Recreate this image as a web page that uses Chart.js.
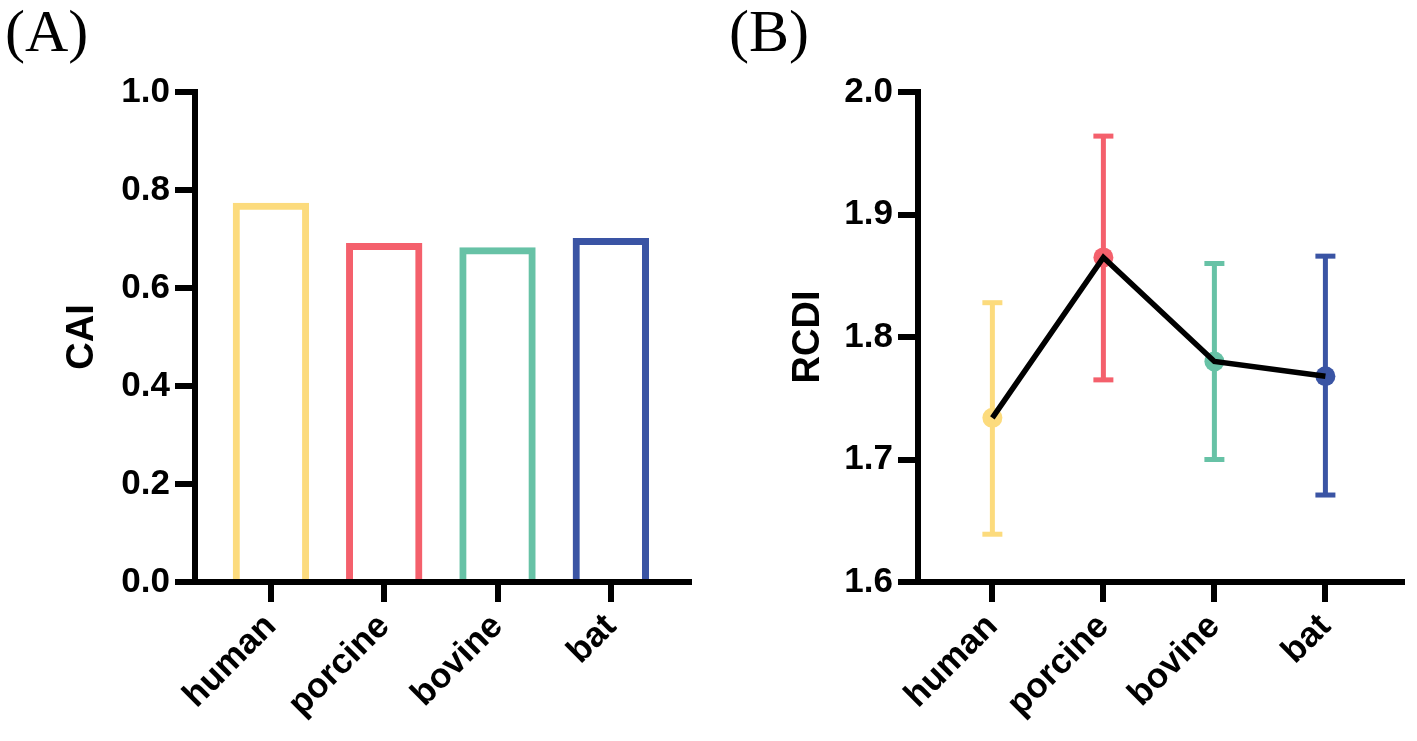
<!DOCTYPE html>
<html>
<head>
<meta charset="utf-8">
<script src="https://cdn.jsdelivr.net/npm/chart.js@4.4.1/dist/chart.umd.min.js"></script>
<style>
body { margin: 0; background: #fff; width: 1417px; height: 741px; overflow: hidden; position: relative; }
canvas { position: absolute; top: 0; }
.tag { position: absolute; top: 1px; font-family: 'Liberation Serif', 'Times New Roman', serif; font-size: 60px; line-height: 60px; color: #000; }
</style>
</head>
<body>
<canvas id="chartA" width="708" height="741" style="left:0"></canvas>
<canvas id="chartB" width="709" height="741" style="left:708px"></canvas>
<div class="tag" style="left:5px">(A)</div>
<div class="tag" style="left:729px">(B)</div>
<script>
// data
var species = ['human', 'porcine', 'bovine', 'bat'];
var speciesColors = ['#fcdb7d', '#f4606c', '#67c2a6', '#3a54a4'];

var cai = [0.774, 0.692, 0.683, 0.702];
var caiTicks = [0, 0.2, 0.4, 0.6, 0.8, 1.0];

var rcdi = [1.734, 1.865, 1.780, 1.768];
var rcdiLow = [1.639, 1.765, 1.700, 1.671];
var rcdiHigh = [1.828, 1.964, 1.860, 1.866];
var rcdiTicks = [1.6, 1.7, 1.8, 1.9, 2.0];

Chart.defaults.font.family = "'Liberation Sans', Arial, sans-serif";
Chart.defaults.font.weight = 'bold';
Chart.defaults.color = '#000';

function catAxis() {
  return {
    type: 'linear',
    min: -0.67,
    max: 3.69,
    offset: false,
    afterBuildTicks: function(s) {
      s.ticks = species.map(function(n, i) { return { value: i }; });
    },
    ticks: {
      autoSkip: false,
      minRotation: 45,
      maxRotation: 45,
      padding: 4,
      color: '#000',
      font: { size: 35, weight: 'bold' },
      callback: function(v) { return species[v]; }
    },
    grid: { drawOnChartArea: false, offset: false, color: '#000', lineWidth: 6, tickLength: 20, tickWidth: 6, tickColor: '#000' },
    border: { color: '#000', width: 6 },
    afterFit: function(s) { s.height = 159; }
  };
}

function valAxis(min, max, tickVals, width, title, titlePad) {
  return {
    min: min,
    max: max,
    afterBuildTicks: function(s) {
      s.ticks = tickVals.map(function(v) { return { value: v }; });
    },
    ticks: {
      padding: 5,
      color: '#000',
      font: { size: 35, weight: 'bold' },
      callback: function(v) { return v.toFixed(1); }
    },
    grid: { drawOnChartArea: false, color: '#000', lineWidth: 6, tickLength: 20, tickWidth: 6, tickColor: '#000' },
    border: { color: '#000', width: 6 },
    title: { display: true, text: title, color: '#000', font: { size: 38, weight: 'bold' }, padding: { top: titlePad, bottom: 0 } },
    afterFit: function(s) { s.width = width; }
  };
}

var caiPoints = cai.map(function(v, i) { return { x: i, y: v }; });

var chartA = new Chart(document.getElementById('chartA'), {
  type: 'bar',
  data: {
    datasets: [{
      data: caiPoints,
      backgroundColor: 'rgba(0,0,0,0)',
      borderColor: speciesColors,
      borderWidth: 7,
      borderSkipped: 'start',
      categoryPercentage: 1,
      barPercentage: 0.674
    }]
  },
  options: {
    responsive: false,
    animation: false,
    events: [],
    layout: { padding: { top: 92, right: 19, bottom: 0, left: 0 } },
    plugins: { legend: { display: false }, tooltip: { enabled: false } },
    scales: {
      x: catAxis(),
      y: valAxis(0, 1, caiTicks, 195, 'CAI', 60)
    }
  }
});

// error bars: one small line per species, caps drawn as 'line' points
var errSets = species.map(function(n, i) {
  return {
    data: [{ x: i, y: rcdiLow[i] }, { x: i, y: rcdiHigh[i] }],
    borderColor: speciesColors[i],
    borderWidth: 5,
    pointStyle: 'line',
    pointRadius: 10,
    pointBorderWidth: 5,
    pointBorderColor: speciesColors[i],
    pointBackgroundColor: speciesColors[i],
    order: 3
  };
});

var rcdiPoints = rcdi.map(function(v, i) { return { x: i, y: v }; });

var chartB = new Chart(document.getElementById('chartB'), {
  type: 'line',
  data: {
    datasets: errSets.concat([
      {
        data: rcdiPoints,
        showLine: false,
        pointRadius: 10,
        pointBorderWidth: 0,
        pointBackgroundColor: speciesColors,
        order: 2
      },
      {
        data: rcdiPoints,
        borderColor: '#000',
        borderWidth: 5.5,
        pointRadius: 0,
        order: 1
      }
    ])
  },
  options: {
    responsive: false,
    animation: false,
    events: [],
    layout: { padding: { top: 92, right: 7, bottom: 0, left: 0 } },
    plugins: { legend: { display: false }, tooltip: { enabled: false } },
    scales: {
      x: catAxis(),
      y: valAxis(1.6, 2.0, rcdiTicks, 210, 'RCDI', 78)
    }
  }
});
</script>
</body>
</html>
